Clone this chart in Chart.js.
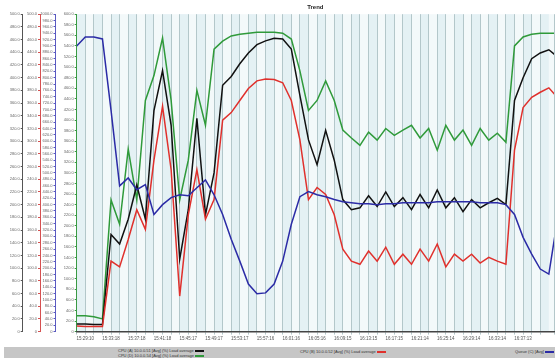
<!DOCTYPE html>
<html>
<head>
<meta charset="utf-8">
<script src="https://cdn.jsdelivr.net/npm/chart.js@4/dist/chart.umd.min.js"></script>
<style>
  body { margin: 0; background: #fff; font-family: Arial, "Liberation Sans", sans-serif; }
  #wrap { width: 555px; height: 358px; position: relative; overflow: hidden; }
  #box { width: 555px; height: 346px; position: relative; }
  #legend { position: absolute; left: 4px; top: 347px; width: 551px; height: 11px; background: #c6c6c6; }
  .it { position: absolute; font-size: 4px; line-height: 5px; color: #333; white-space: nowrap; }
  .it i { display: inline-block; width: 9px; height: 2px; vertical-align: middle; margin-left: 1px; }
</style>
</head>
<body>
<div id="wrap">
  <div id="box"><canvas id="trend"></canvas></div>
  <div id="legend">
    <span class="it" style="left:114px;top:1px">CPU (A) 10.0.0.51 [Avg] (%) Load average<i style="background:#111"></i></span>
    <span class="it" style="left:114px;top:6px">CPU (D) 10.0.0.54 [Avg] (%) Load average<i style="background:#2f9a3a"></i></span>
    <span class="it" style="left:296px;top:2px">CPU (B) 10.0.0.52 [Avg] (%) Load average<i style="background:#e0302c"></i></span>
    <span class="it" style="left:511px;top:2px">Queue (C) [Avg]<i style="background:#2b2ba6"></i></span>
  </div>
</div>
<script>
// marcas de tiempo del eje X (una cada 3 muestras, desde la muestra 1)
const tickTimes = ['15:29:10', '15:33:18', '15:37:18', '15:41:18', '15:45:17', '15:49:17', '15:53:17',
  '15:57:16', '16:01:16', '16:05:16', '16:09:15', '16:13:15', '16:17:15', '16:21:14', '16:25:14',
  '16:29:14', '16:33:14', '16:37:13', '16:41:13'];

// series (una muestra por linea de grilla)
const serieVerde = [30, 30, 28, 24, 249, 203, 345, 249, 437, 484, 555, 437, 249, 324, 456, 390, 534, 549,
  559, 562, 564, 566, 566, 566, 564, 553, 493, 418, 437, 474, 437, 381, 366, 352, 377, 362, 384, 371, 381,
  390, 366, 384, 343, 390, 362, 381, 352, 384, 362, 375, 358, 540, 557, 562, 564, 564, 564];
const serieNegra = [12, 12, 11, 11, 153, 138, 177, 231, 177, 348, 411, 325, 114, 192, 336, 184, 250, 388,
  402, 422, 439, 452, 458, 462, 461, 445, 372, 302, 263, 317, 270, 208, 192, 195, 214, 197, 220, 197, 211,
  192, 216, 195, 223, 195, 211, 189, 208, 195, 203, 210, 200, 364, 400, 430, 439, 444, 433];
const serieRoja = [9, 8, 8, 8, 111, 102, 145, 192, 161, 270, 355, 255, 56, 184, 255, 177, 208, 333, 345,
  364, 383, 395, 398, 397, 392, 364, 302, 208, 227, 216, 184, 130, 111, 106, 127, 111, 133, 106, 122, 106,
  130, 111, 138, 102, 122, 111, 122, 108, 117, 111, 106, 286, 353, 369, 377, 384, 369];
const serieAzul = [900, 928, 928, 922, 697, 459, 484, 447, 463, 369, 400, 422, 431, 428, 453, 478, 431, 369,
  291, 222, 150, 119, 122, 150, 222, 338, 425, 441, 431, 425, 416, 409, 406, 403, 403, 400, 403, 403, 406,
  406, 406, 406, 409, 409, 409, 409, 409, 406, 406, 406, 400, 369, 297, 244, 197, 181, 353];

const puntos = arr => arr.map((v, i) => ({ x: i, y: v }));

// franjas celestes entre lineas de grilla
const franjas = {
  id: 'franjas',
  beforeDraw(chart) {
    const { ctx, chartArea: a, scales: { x } } = chart;
    ctx.save();
    ctx.fillStyle = '#f3f9fa';
    ctx.fillRect(a.left, a.top, a.right - a.left, a.bottom - a.top);
    ctx.fillStyle = '#e4f1f4';
    for (let i = 0; i < 56; i += 2) {
      const x0 = x.getPixelForValue(i), x1 = x.getPixelForValue(i + 1);
      ctx.fillRect(x0, a.top, x1 - x0, a.bottom - a.top);
    }
    ctx.restore();
  }
};

function ejeY(max, color, ancho) {
  return {
    position: 'left', min: 0, max: max,
    border: { display: true, color: color, width: 1 },
    grid: { display: true, drawOnChartArea: false, color: color, tickLength: 2 },
    ticks: {
      stepSize: 20, maxTicksLimit: 60, autoSkip: false, padding: 1, color: '#666',
      font: { size: 4, family: 'Arial' },
      callback: v => v === 0 ? '0' : v.toFixed(1)
    },
    afterFit: s => { s.width = ancho; }
  };
}

function serie(nombre, datos, color, eje) {
  return { label: nombre, data: puntos(datos), borderColor: color, borderWidth: 1.5,
    pointRadius: 0, tension: 0, yAxisID: eje };
}

new Chart(document.getElementById('trend'), {
  type: 'line',
  data: {
    datasets: [
      serie('Azul', serieAzul, '#2b2ba6', 'yAzul'),
      serie('Roja', serieRoja, '#e0302c', 'yRoja'),
      serie('Negra', serieNegra, '#111111', 'yNegra'),
      serie('Verde', serieVerde, '#2f9a3a', 'yVerde')
    ]
  },
  options: {
    responsive: true,
    maintainAspectRatio: false,
    animation: false,
    layout: { padding: { left: 0, right: 0, top: 0, bottom: 4 } },
    plugins: {
      legend: { display: false },
      tooltip: { enabled: false },
      title: { display: true, text: 'Trend', fullSize: false, color: '#222',
        font: { size: 6, weight: 'bold', family: 'Arial' }, padding: { top: 4, bottom: 3 } }
    },
    scales: {
      yVerde: ejeY(600, '#3a9a44', 21.2),
      yAzul: ejeY(1000, '#5a5ac0', 15.5),
      yRoja: ejeY(500, '#d65050', 17.3),
      yNegra: ejeY(500, '#555555', 22.7),
      x: {
        type: 'linear', min: 0, max: 55.6,
        border: { display: true, color: '#444', width: 1.5 },
        grid: { color: '#b3c7ca', lineWidth: 1, tickLength: 3 },
        ticks: {
          stepSize: 1, autoSkip: false, maxRotation: 0, padding: 1, color: '#555',
          font: { size: 4.5, family: 'Arial' },
          callback: v => (Number.isInteger(v) && (v - 1) % 3 === 0) ? tickTimes[(v - 1) / 3] : ''
        }
      }
    }
  },
  plugins: [franjas]
});
</script>
</body>
</html>
